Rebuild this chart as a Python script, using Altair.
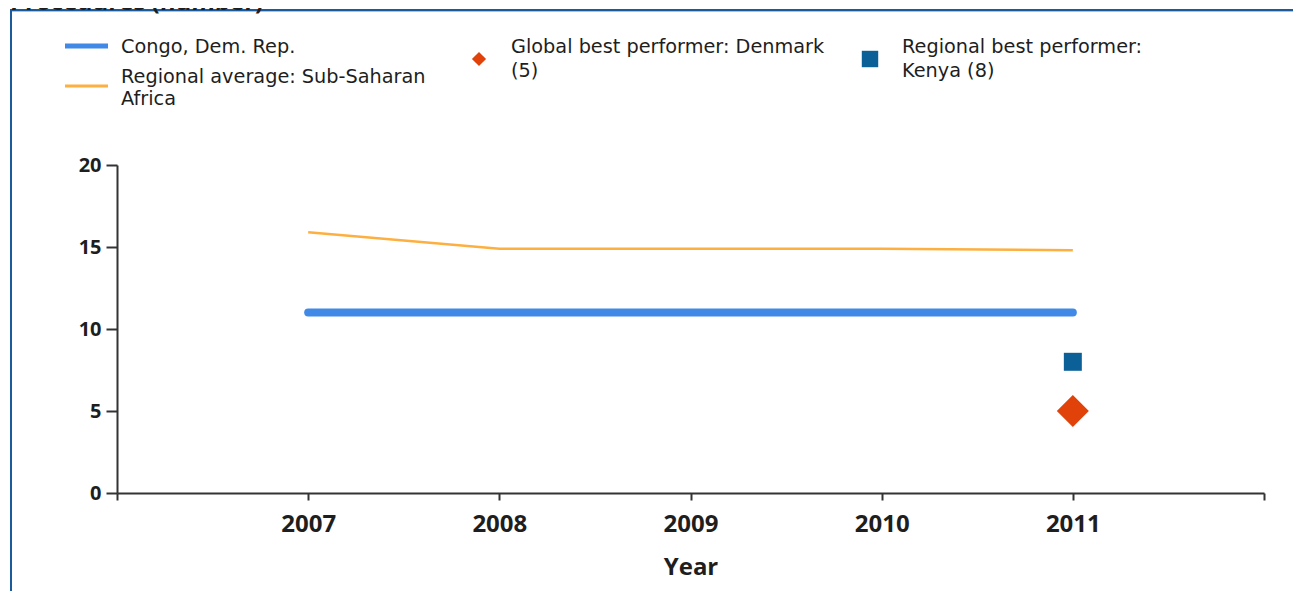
import altair as alt
import pandas as pd

# ---- data ----
years = [2007, 2008, 2009, 2010, 2011]
congo_values = [11, 11, 11, 11, 11]
regional_avg_values = [15.9, 14.9, 14.9, 14.9, 14.8]
global_best_year = [2011]
global_best_value = [5]
regional_best_year = [2011]
regional_best_value = [8]

x_tick_values = [2006, 2007, 2008, 2009, 2010, 2011, 2012]
y_tick_values = [0, 5, 10, 15, 20]

title_text = "Procedures (number)"
legend_congo = "Congo, Dem. Rep."
legend_regional = ["Regional average: Sub-Saharan", "Africa"]
legend_global = ["Global best performer: Denmark", "(5)"]
legend_regbest = ["Regional best performer:", "Kenya (8)"]

# ---- styles ----
BLUE = "#4189E6"
ORANGE = "#FDB040"
TEAL = "#0B6197"
RED = "#E0420A"
FRAME = "#1C5B9B"
TXT = "#1E1E1E"
LEG_FONT = "DejaVu Sans"
AX_FONT = "Open Sans"
LEG_SIZE = 19.3

W, H = 1147, 328

df_congo = pd.DataFrame({"year": years, "value": congo_values})
df_reg = pd.DataFrame({"year": years, "value": regional_avg_values})
df_glob = pd.DataFrame({"year": global_best_year, "value": global_best_value})
df_rbest = pd.DataFrame({"year": regional_best_year, "value": regional_best_value})

xscale = alt.Scale(domain=[2006, 2012], nice=False, zero=False)
yscale = alt.Scale(domain=[0, 20], nice=False)

xaxis = alt.Axis(
    values=x_tick_values, format="d",
    labelExpr="datum.value > 2006 && datum.value < 2012 ? datum.label : ''",
    title="Year", titleFont=AX_FONT, titleFontSize=24, titleFontWeight="bold",
    titleColor=TXT, titleY=81, titleBaseline="alphabetic",
    labelFont=AX_FONT, labelFontSize=24, labelFontWeight="bold", labelColor=TXT,
    labelPadding=12, labelFlush=False, labelOverlap=False,
    tickSize=7, tickWidth=2, tickColor="#333333",
    domainColor="#333333", domainWidth=2, grid=False,
)
yaxis = alt.Axis(
    values=y_tick_values, title=None,
    labelFont=AX_FONT, labelFontSize=20, labelFontWeight="bold", labelColor=TXT,
    labelPadding=5, tickSize=11, tickWidth=2, tickColor="#333333",
    domainColor="#333333", domainWidth=2, grid=False,
)

X = alt.X("year:Q", scale=xscale, axis=xaxis)
Y = alt.Y("value:Q", scale=yscale, axis=yaxis)

congo_line = alt.Chart(df_congo).mark_line(
    color=BLUE, strokeWidth=8, strokeCap="round"
).encode(x=X, y=Y)

reg_line = alt.Chart(df_reg).mark_line(
    color=ORANGE, strokeWidth=2.5
).encode(x=X, y=Y)

glob_pt = alt.Chart(df_glob).mark_point(
    shape="diamond", filled=True, size=1024, color=RED, opacity=1
).encode(x=X, y=Y)

rbest_pt = alt.Chart(df_rbest).mark_point(
    shape="square", filled=True, size=324, color=TEAL, opacity=1
).encode(x=X, y=Y)


def label(text, x, y, size=LEG_SIZE, font=LEG_FONT, weight="normal", color=TXT,
          baseline="middle"):
    return alt.Chart(pd.DataFrame({"t": [text]})).mark_text(
        align="left", baseline=baseline, font=font, fontSize=size,
        fontWeight=weight, color=color
    ).encode(text="t:N", x=alt.value(x), y=alt.value(y))


def hrule(x1, x2, y, color, width):
    return alt.Chart(pd.DataFrame({"a": [0]})).mark_rule(
        color=color, strokeWidth=width
    ).encode(x=alt.value(x1), x2=alt.value(x2), y=alt.value(y))


def vrule(x, y1, y2, color, width):
    return alt.Chart(pd.DataFrame({"a": [0]})).mark_rule(
        color=color, strokeWidth=width
    ).encode(x=alt.value(x), y=alt.value(y1), y2=alt.value(y2))


def symbol(shape, x, y, size, color):
    return alt.Chart(pd.DataFrame({"a": [0]})).mark_point(
        shape=shape, filled=True, size=size, color=color, opacity=1
    ).encode(x=alt.value(x), y=alt.value(y))


# plot origin is at page (117, 165)
frame = [
    hrule(-106, 1176, -155, FRAME, 2),
    hrule(-105, 1176, -153.5, "#A9C3DE", 1),
    vrule(-106, -156, 430, FRAME, 2),
]

title = label(title_text, -107, -155, size=24, font=AX_FONT, weight="bold",
              baseline="alphabetic")

legend = [
    hrule(-52, -9, -119, BLUE, 5),
    label(legend_congo, 4, -118),
    hrule(-52, -9, -79, ORANGE, 3),
    label(legend_regional[0], 4, -88),
    label(legend_regional[1], 4, -66),
    symbol("diamond", 362, -106, 200, RED),
    label(legend_global[0], 394, -118),
    label(legend_global[1], 394, -94),
    symbol("square", 753, -106, 270, TEAL),
    label(legend_regbest[0], 785, -118),
    label(legend_regbest[1], 785, -94),
]

chart = alt.layer(
    *frame, title, *legend, reg_line, congo_line, rbest_pt, glob_pt
).properties(
    width=W, height=H,
    padding={"left": 109, "top": 157, "right": 29, "bottom": 98},
    autosize=alt.AutoSizeParams(type="none"),
    background="white",
).configure_view(stroke=None)

chart.save("out.html", embed_options={"renderer": "svg", "actions": False})
